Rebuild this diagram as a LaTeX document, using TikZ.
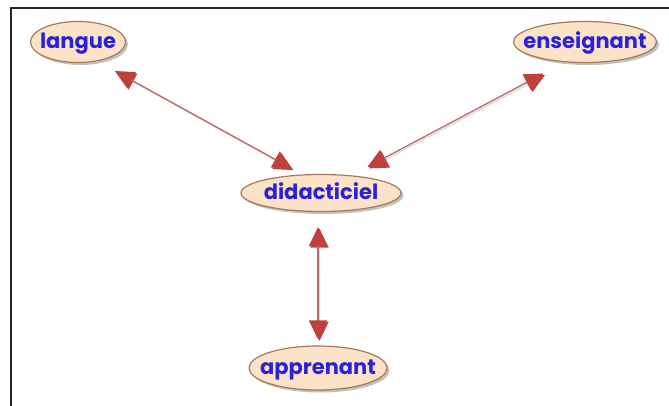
\documentclass[tikz,border=0pt]{standalone}
\usepackage{fontspec}
\newfontfamily\comicfont{Poppins}
\usetikzlibrary{shapes.geometric,arrows.meta,shadows}
\definecolor{nodefill}{HTML}{FCE3C8}
\definecolor{nodedraw}{HTML}{A87858}
\definecolor{txtblue}{HTML}{2A22D8}
\definecolor{arrowred}{HTML}{C0403C}
\definecolor{linered}{HTML}{B86A66}
\newcommand{\cptext}[1]{\makebox[0pt]{\raisebox{-0.33em}[0pt][0pt]{#1}}}
\tikzset{
  concept/.style={ellipse, draw=nodedraw, line width=1.2pt, fill=nodefill,
    inner sep=0pt, text=txtblue, font=\comicfont\bfseries\fontsize{21}{21}\selectfont,
    drop shadow={shadow xshift=2.5pt, shadow yshift=-2.5pt, fill=black!30, opacity=0.8}},
  link/.style={draw=linered, line width=1.3pt,
    {Triangle[length=19pt,width=18pt,fill=arrowred,color=arrowred]}-{Triangle[length=19pt,width=18pt,fill=arrowred,color=arrowred]},
    preaction={draw=black!15, line width=1.3pt, transform canvas={xshift=1.5pt,yshift=-1.5pt}}}
}
\begin{document}
\begin{tikzpicture}[x=1pt,y=-1pt]
\useasboundingbox (0,0) rectangle (669,406);
\draw[line width=2.2pt, black!85] (11,406) -- (11,8) -- (669,8);
\node[concept, minimum width=95pt, minimum height=41pt] (langue) at (78,42) {\cptext{langue}};
\node[concept, minimum width=143pt, minimum height=41pt] (enseignant) at (585,42) {\cptext{enseignant}};
\node[concept, minimum width=160pt, minimum height=37pt] (didacticiel) at (321,193) {\cptext{didacticiel}};
\node[concept, minimum width=138pt, minimum height=44pt] (apprenant) at (318,368) {\cptext{apprenant}};
\draw[link, shorten <=20pt, shorten >=12pt] (langue.-45) -- (didacticiel.135);
\draw[link, shorten <=24pt, shorten >=18pt] (enseignant.225) -- (didacticiel.30);
\draw[link, shorten <=15pt, shorten >=6pt] (didacticiel.south -| apprenant) -- (apprenant.north);
\end{tikzpicture}
\end{document}
